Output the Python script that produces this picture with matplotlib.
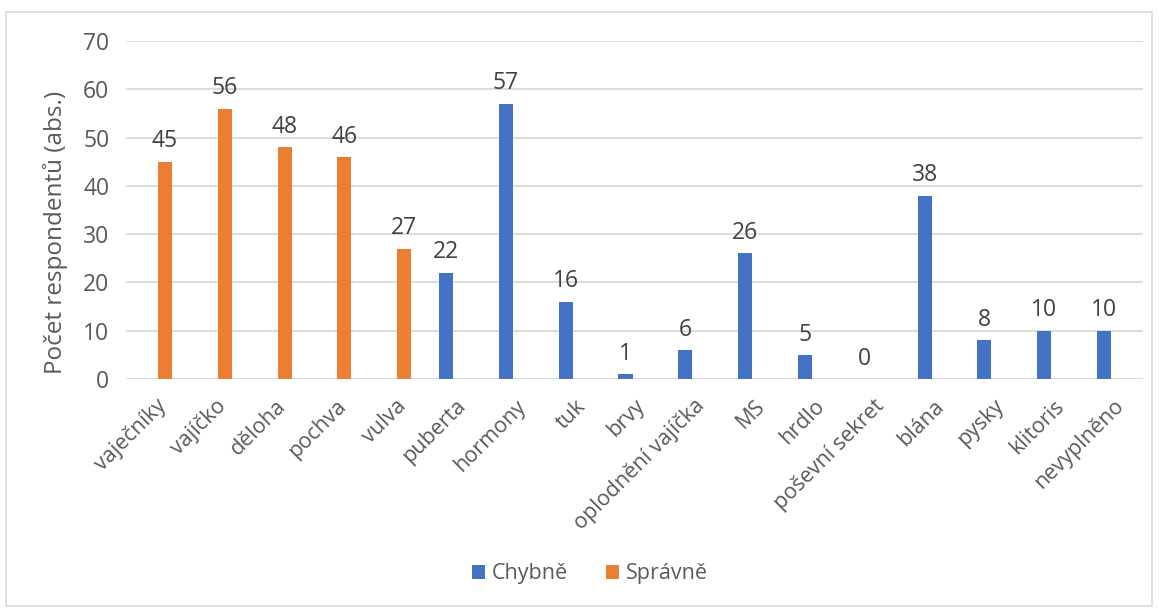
import numpy as np
import matplotlib.pyplot as plt
from matplotlib.patches import Rectangle

plt.rcParams['font.family'] = ['Open Sans', 'DejaVu Sans']

categories = ['vaječníky', 'vajíčko', 'děloha', 'pochva', 'vulva', 'puberta',
              'hormony', 'tuk', 'brvy', 'oplodnění vajíčka', 'MS', 'hrdlo',
              'poševní sekret', 'blána', 'pysky', 'klitoris', 'nevyplněno']
nan = np.nan
chybne = [nan, nan, nan, nan, nan, 22, 57, 16, 1, 6, 26, 5, 0, 38, 8, 10, 10]
spravne = [45, 56, 48, 46, 27, nan, nan, nan, nan, nan, nan, nan, nan, nan, nan, nan, nan]

blue = '#4472C4'
orange = '#ED7D31'
text_col = '#595959'

fig = plt.figure(figsize=(11.59, 6.08), dpi=100)
ax = fig.add_axes([126 / 1159, 1 - 379 / 608, (1143 - 126) / 1159, (379 - 41) / 608])

x = np.arange(len(categories))
w = 0.235
off = 0.15
b1 = ax.bar(x - off, chybne, w, color=blue, label='Chybně', zorder=3)
b2 = ax.bar(x + off, spravne, w, color=orange, label='Správně', zorder=3)

for bars, vals in ((b1, chybne), (b2, spravne)):
    for rect, v in zip(bars, vals):
        if np.isnan(v):
            continue
        ax.annotate(f'{int(v)}', (rect.get_x() + rect.get_width() / 2, v),
                    xytext=(0, 6), textcoords='offset points',
                    ha='center', va='bottom', fontsize=16.5, color='#404040')

ax.set_xlim(-0.5, len(categories) - 0.5)
ax.set_ylim(0, 70)
ax.set_yticks(range(0, 71, 10))
ax.yaxis.grid(True, color='#D9D9D9', linewidth=1.3, zorder=0)
ax.set_axisbelow(True)
for s in ax.spines.values():
    s.set_visible(False)
ax.tick_params(axis='y', length=0, labelsize=16.5, colors=text_col, pad=12)
ax.set_xticks(x)
ax.set_xticklabels(categories, rotation=45, ha='right', rotation_mode='anchor')
ax.tick_params(axis='x', length=0, labelsize=15.5, colors=text_col, pad=12)
ax.set_ylabel('Počet respondentů (abs.)', fontsize=17.5, color=text_col)
ax.yaxis.set_label_coords(-0.057, 0.435)

ax.legend(loc='center', bbox_to_anchor=(590 / 1159, 1 - 574 / 608),
          bbox_transform=fig.transFigure, ncol=2, frameon=False, fontsize=15.5,
          handlelength=0.6, handleheight=0.6, handletextpad=0.3, columnspacing=1.8,
          labelcolor=text_col)

fig.patches.append(Rectangle((6 / 1159, 2 / 608), 1146 / 1159, 594 / 608,
                             transform=fig.transFigure, fill=False,
                             edgecolor='#D9D9D9', linewidth=1.2))

fig.savefig('out.png', dpi=100)
